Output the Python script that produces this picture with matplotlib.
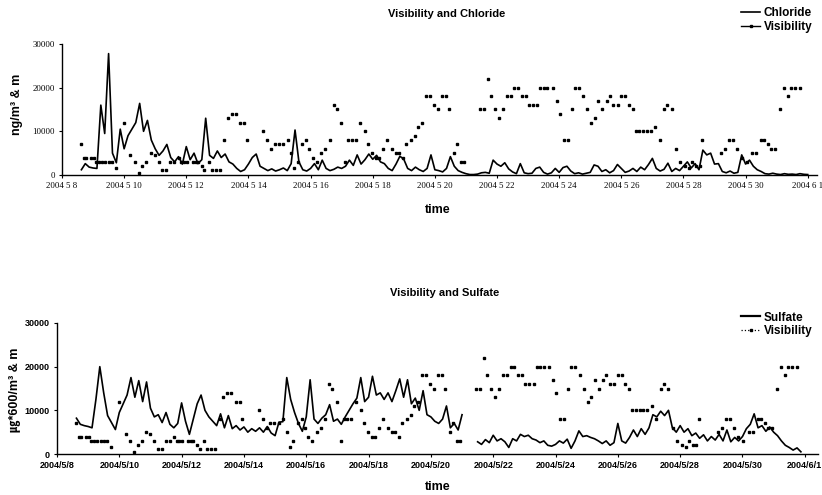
import numpy as np
import matplotlib
matplotlib.use("Agg")
from matplotlib import pyplot as plt
from matplotlib.lines import Line2D

plt.rcParams['font.family'] = ['Liberation Sans', 'DejaVu Sans', 'Noto Sans CJK KR']

# 3-hourly samples, day offsets counted from 2004-05-08 00:00
start_day = 0.625
step_day = 0.125

# chloride, ng/m3  (one row per day)
chloride = [
    1200, 2600, 1800,
    1600, 1500, 16000, 9500, 27800, 5000, 2800, 10500,
    6000, 9000, 10500, 12000, 16400, 10000, 12500, 8000,
    6000, 4500, 5500, 7000, 4000, 3000, 4200, 2500,
    6500, 3500, 5000, 2600, 3500, 13000, 4500, 3800,
    5500, 4000, 4800, 3000, 2500, 1500, 800, 1200,
    2500, 4000, 4800, 2000, 1500, 1000, 1400, 900,
    1200, 1600, 1000, 2600, 10300, 3000, 1200, 900,
    1500, 2600, 1200, 3400, 1500, 1000, 1300, 1800,
    1500, 2000, 3400, 2200, 4600, 2500, 3500, 4800,
    3600, 4500, 3000, 2600, 1500, 1000, 2500, 4300,
    3600, 1500, 1000, 1800, 1200, 800, 1500, 4600,
    1200, 1000, 700, 1500, 4200, 2000, 1000, 600,
    300, 100, 100, 200, 500, 600, 400, 3400,
    2500, 2000, 2800, 1400, 700, 300, 2600, 500,
    300, 400, 1500, 1800, 600, 200, 500, 1500,
    600, 1700, 2000, 900, 300, 500, 200, 400,
    600, 2300, 2000, 800, 1200, 500, 1000, 2400,
    1500, 600, 900, 1500, 800, 1800, 1200, 2400,
    3800, 1500, 900, 1300, 2700, 800, 1500, 1000,
    2000, 3000, 1600, 2600, 1200, 5700, 4600, 5000,
    2500, 2600, 800, 500, 900, 400, 600, 4600,
    2500, 3400, 2000, 1200, 800, 300, 200, 400,
    200, 100, 300, 150, 200, 100, 300, 150,
    100,
]

# sulfate, ug*600/m3
sulfate = [
    8200, 6800, 6500,
    6300, 6000, 12500, 20000, 14000, 8800, 7200, 5600,
    9500, 11500, 13500, 17500, 13000, 16800, 12000, 16500,
    10500, 8500, 9000, 7200, 9500, 6800, 6000, 7000,
    11700, 7500, 4500, 8000, 11500, 13500, 10000, 8500,
    7500, 6500, 9200, 6000, 8800, 5800, 6500, 5500,
    6200, 5000, 5800, 5200, 6000, 5000, 6300, 4800,
    4200, 7300, 7400, 17500, 12500, 9500, 7000, 5200,
    8500, 17000, 8000, 7000, 8200, 9000, 11300, 7500,
    8000, 6800, 8500, 10000, 11500, 12800, 17500, 12000,
    13000, 17800, 13500, 14000, 12500, 14000, 12000, 14500,
    17200, 13000, 17000, 11500, 12800, 10000, 14500, 9000,
    8500, 7500, 7000, 8000, 11000, 6000, 7000, 5500,
    9000, np.nan, np.nan, np.nan, 2800, 2200, 3300, 2600,
    4300, 3000, 3500, 2800, 1500, 3500, 3000, 4500,
    4000, 4300, 3500, 3200, 2600, 3000, 2000, 1800,
    2200, 3000, 2500, 3400, 1300, 3000, 5300, 4000,
    4200, 3800, 3500, 3000, 2400, 3000, 2000, 2600,
    7000, 3000, 2500, 3800, 5500, 4000, 5800, 4500,
    6000, 9000, 8500, 9800, 8800, 10000, 6000, 5000,
    6500, 5000, 5800, 4200, 4800, 3600, 4400, 3000,
    4000, 3200, 4500, 3000, 5500, 2800, 3800, 3000,
    4000, 5800, 6800, 9200, 6000, 6500, 5200, 6200,
    5000, 4200, 3000, 2000, 1500, 900, 1400, 500,
]

# visibility, m (same readings in both panels)
vis_day = [
    0.62, 0.72, 0.77, 0.94, 1.02, 1.1, 1.2, 1.3, 1.4, 1.5, 1.6, 1.73, 1.98,
    2.2, 2.34, 2.48, 2.59, 2.72, 2.85, 2.99, 3.13, 3.23, 3.36, 3.49, 3.62,
    3.76, 3.84, 3.93, 4.02, 4.22, 4.3, 4.38, 4.5, 4.58, 4.72, 4.83, 4.95,
    5.07, 5.22, 5.33, 5.47, 5.6, 5.74, 5.87, 5.95,
    6.48, 6.61, 6.73, 6.84, 6.97, 7.11, 7.26, 7.37, 7.47, 7.59, 7.72, 7.86,
    7.96, 8.07, 8.2, 8.34, 8.47, 8.61, 8.74, 8.84, 8.98, 9.1, 9.2, 9.32,
    9.45, 9.59, 9.75, 9.84, 9.98, 10.1, 10.2, 10.32, 10.47, 10.61, 10.75, 10.86,
    10.97, 11.07, 11.22, 11.36, 11.47, 11.59, 11.7, 11.85, 11.98, 12.09, 12.22, 12.35,
    12.46, 12.6, 12.7, 12.83, 12.95,
    13.45, 13.58, 13.7, 13.81, 13.94, 14.07, 14.2, 14.33, 14.44, 14.56, 14.68, 14.81,
    14.94, 15.03, 15.15, 15.3, 15.39, 15.5, 15.62, 15.8, 15.92, 16.02, 16.15, 16.27,
    16.4, 16.51, 16.63, 16.78, 16.9, 17.04, 17.15, 17.26, 17.39, 17.53, 17.63, 17.74,
    17.88, 18.0, 18.13, 18.24, 18.37, 18.46, 18.58, 18.7, 18.82, 18.94,
    19.1, 19.24, 19.37, 19.48, 19.62, 19.76, 19.9, 20.05, 20.18, 20.28, 20.4, 20.52,
    20.6, 21.2, 21.34, 21.47, 21.6, 21.73, 21.87, 22.03, 22.2, 22.35, 22.49, 22.6,
    22.72, 22.83, 22.95, 23.1, 23.24, 23.35, 23.45, 23.6, 23.75,
]
vis_m = [
    7000, 4000, 4000, 4000, 4000, 3000, 3000, 3000, 3000, 3000, 3000, 1500, 12000,
    4500, 3000, 500, 2000, 3000, 5000, 4500, 3000, 1200, 1200, 3000, 3000,
    4000, 3000, 3000, 3000, 3000, 3000, 3000, 2000, 1200, 3000, 1200, 1200,
    1200, 8000, 13000, 14000, 14000, 12000, 12000, 8000,
    10000, 8000, 6000, 7000, 7000, 7000, 8000, 5000, 1500, 3000, 7000, 8000,
    6000, 4000, 3000, 5000, 6000, 8000, 16000, 15000, 12000, 3000, 8000, 8000,
    8000, 12000, 10000, 7000, 5000, 4000, 4000, 6000, 8000, 6000, 5000, 5000,
    4000, 7000, 8000, 9000, 11000, 12000, 18000, 18000, 16000, 15000, 18000, 18000,
    15000, 5000, 7000, 3000, 3000,
    15000, 15000, 22000, 18000, 15000, 13000, 15000, 18000, 18000, 20000, 20000, 18000,
    18000, 16000, 16000, 16000, 20000, 20000, 20000, 20000, 17000, 14000, 8000, 8000,
    15000, 20000, 20000, 18000, 15000, 12000, 13000, 17000, 15000, 17000, 18000, 16000,
    16000, 18000, 18000, 16000, 15000, 10000, 10000, 10000, 10000, 10000,
    11000, 8000, 15000, 16000, 15000, 6000, 3000, 2000, 1500, 3000, 2000, 2000,
    8000, 5000, 6000, 8000, 8000, 6000, 4000, 3000, 5000, 5000, 8000, 8000,
    7000, 6000, 6000, 15000, 20000, 18000, 20000, 20000, 20000,
]

tick_days = [0, 2, 4, 6, 8, 10, 12, 14, 16, 18, 20, 22, 24]
top_tick_labels = ['2004 5 8', '2004 5 10', '2004 5 12', '2004 5 14', '2004 5 16',
                   '2004 5 18', '2004 5 20', '2004 5 22', '2004 5 24', '2004 5 26',
                   '2004 5 28', '2004 5 30', '2004 6 1']
bottom_tick_labels = ['2004/5/8', '2004/5/10', '2004/5/12', '2004/5/14', '2004/5/16',
                      '2004/5/18', '2004/5/20', '2004/5/22', '2004/5/24', '2004/5/26',
                      '2004/5/28', '2004/5/30', '2004/6/1']
y_ticks = [0, 10000, 20000, 30000]

cl_days = start_day + step_day * np.arange(len(chloride))
so_days = start_day + step_day * np.arange(len(sulfate))

fig = plt.figure(figsize=(8.22, 4.95), dpi=100)
ax1 = fig.add_axes([0.0754, 0.6465, 0.9186, 0.2646])
ax2 = fig.add_axes([0.0693, 0.0828, 0.9257, 0.2647])

def style(ax, labels, tickfont):
    ax.set_ylim(0, 30000)
    ax.set_yticks(y_ticks)
    ax.set_xticks(tick_days)
    ax.set_xticklabels(labels)
    for s in ['top', 'right']:
        ax.spines[s].set_visible(False)
    for s in ['left', 'bottom']:
        ax.spines[s].set_linewidth(1.0)
    ax.tick_params(axis='both', length=2, width=0.8, pad=3)
    for t in ax.get_xticklabels() + ax.get_yticklabels():
        t.set_fontproperties(tickfont)

# top: chloride
ax1.plot(cl_days, chloride, color='black', lw=1.2)
ax1.plot(vis_day, vis_m, ls='none', marker='s', ms=2.0, color='black')
ax1.set_xlim(0.05, 24.3)
style(ax1, top_tick_labels, {'family': 'Liberation Serif', 'size': 6.3})

# bottom: sulfate
ax2.plot(so_days, sulfate, color='black', lw=1.2)
ax2.plot(vis_day, vis_m, ls='none', marker='s', ms=2.0, color='black')
ax2.set_xlim(0.03, 24.42)
style(ax2, bottom_tick_labels, {'family': 'Liberation Sans', 'size': 6.5, 'weight': 'bold'})

fig.text(0.543, 0.972, 'Visibility and Chloride', ha='center', va='center',
         fontsize=8, fontweight='bold')
fig.text(0.541, 0.408, 'Visibility and Sulfate', ha='center', va='center',
         fontsize=8, fontweight='bold')
fig.text(0.533, 0.576, 'time', ha='center', va='center', fontsize=9, fontweight='bold')
fig.text(0.533, 0.016, 'time', ha='center', va='center', fontsize=9, fontweight='bold')
fig.text(0.021, 0.79, 'ng/m\u00b3 & m', rotation=90, ha='center', va='center',
         fontsize=9, fontweight='bold')
fig.text(0.018, 0.212, '\u338d*600/m\u00b3 & m', rotation=90, ha='center', va='center',
         fontsize=9, fontweight='bold')

leg_font = {'weight': 'bold', 'size': 8.5}
h_cl = [Line2D([], [], color='black', lw=1.2),
        Line2D([], [], color='black', lw=1.0, marker='s', ms=2.0)]
fig.legend(h_cl, ['Chloride', 'Visibility'], loc='upper left',
           bbox_to_anchor=(0.893, 1.0), frameon=False, prop=leg_font,
           handlelength=1.6, handletextpad=0.3, labelspacing=0.15, borderaxespad=0.2)
h_so = [Line2D([], [], color='black', lw=1.6),
        Line2D([], [], color='black', lw=0.9, ls=':', marker='s', ms=2.0)]
fig.legend(h_so, ['Sulfate', 'Visibility'], loc='upper left',
           bbox_to_anchor=(0.893, 0.385), frameon=False, prop=leg_font,
           handlelength=1.6, handletextpad=0.3, labelspacing=0.15, borderaxespad=0.2)

fig.savefig('out.png', dpi=100)
